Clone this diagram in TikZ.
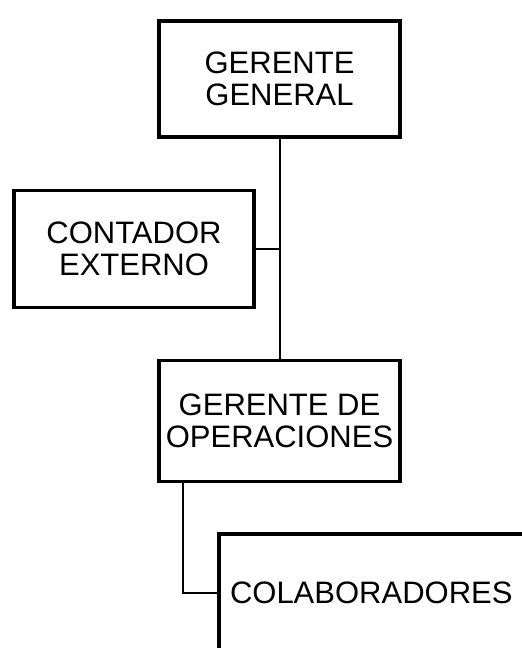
\documentclass[tikz,border=0pt]{standalone}
\usepackage{fontspec}
\setmainfont{Liberation Sans}
\begin{document}
\begin{tikzpicture}[x=1pt,y=-1pt,
  orgbox/.style={draw=black,line width=3.5pt,rectangle,align=center,inner sep=0pt,outer sep=0pt,
    font=\fontsize{31}{32}\selectfont},
  conn/.style={draw=black,line width=2pt}]
\useasboundingbox (0,0) rectangle (522,648);
\clip (0,0) rectangle (522,648);
\node[orgbox,minimum width=241pt,minimum height=116pt] (gg) at (279.5,79) {GERENTE\\GENERAL};
\node[orgbox,minimum width=240pt,minimum height=117pt] (ce) at (134,249) {CONTADOR\\EXTERNO};
\node[orgbox,minimum width=241pt,minimum height=121pt] (go) at (279.5,421) {GERENTE DE\\OPERACIONES};
\node[orgbox,anchor=west,inner xsep=11pt,minimum height=118pt] (co) at (219,593) {COLABORADORES};
\coordinate (j) at (183,481.5);
\draw[conn] (gg.south) -- (go.north);
\draw[conn] (ce.east) -- (ce.east -| gg.south);
\draw[conn] (j) |- (co.west);
\end{tikzpicture}
\end{document}
